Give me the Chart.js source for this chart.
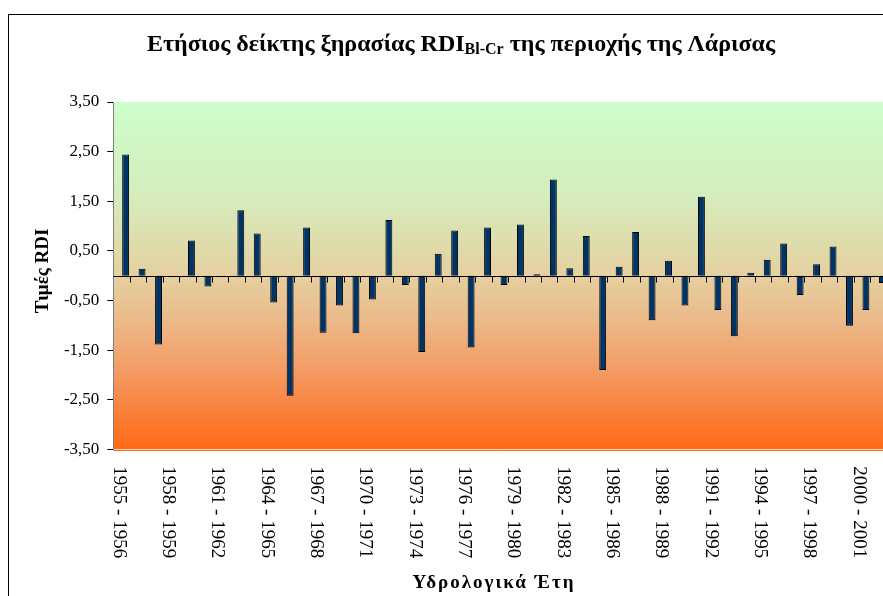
<!DOCTYPE html>
<html>
<head>
<meta charset="utf-8">
<script src="https://cdn.jsdelivr.net/npm/chart.js@4"></script>
<style>
  html, body { margin: 0; padding: 0; background: #fff; overflow: hidden; width: 883px; height: 596px; }
  canvas { position: absolute; left: 0; top: 0; }
</style>
</head>
<body>
<canvas id="rdiChart" width="900" height="596"></canvas>
<script>
// hydrological years (categories)
const years = [
  "1955 - 1956", "1956 - 1957", "1957 - 1958", "1958 - 1959", "1959 - 1960",
  "1960 - 1961", "1961 - 1962", "1962 - 1963", "1963 - 1964", "1964 - 1965",
  "1965 - 1966", "1966 - 1967", "1967 - 1968", "1968 - 1969", "1969 - 1970",
  "1970 - 1971", "1971 - 1972", "1972 - 1973", "1973 - 1974", "1974 - 1975",
  "1975 - 1976", "1976 - 1977", "1977 - 1978", "1978 - 1979", "1979 - 1980",
  "1980 - 1981", "1981 - 1982", "1982 - 1983", "1983 - 1984", "1984 - 1985",
  "1985 - 1986", "1986 - 1987", "1987 - 1988", "1988 - 1989", "1989 - 1990",
  "1990 - 1991", "1991 - 1992", "1992 - 1993", "1993 - 1994", "1994 - 1995",
  "1995 - 1996", "1996 - 1997", "1997 - 1998", "1998 - 1999", "1999 - 2000",
  "2000 - 2001", "2001 - 2002"
];

// RDI values
const rdi = [
   2.44,  0.14, -1.39,  0.00,  0.71, -0.22,  0.00,  1.32,  0.85, -0.54,
  -2.42,  0.97, -1.15, -0.60, -1.16, -0.48,  1.12, -0.19, -1.54,  0.44,
   0.91, -1.45,  0.97, -0.19,  1.03,  0.03,  1.94,  0.15,  0.80, -1.90,
   0.18,  0.88, -0.90,  0.30, -0.60,  1.59, -0.69, -1.22,  0.06,  0.32,
   0.65, -0.39,  0.23,  0.59, -1.01, -0.69, -0.15
];

const yMin = -3.5;
const yMax = 3.5;
const yStep = 1;
const labelStep = 3; // only every 3rd year gets a label

const titleMain = "Ετήσιος δείκτης ξηρασίας RDI";
const titleSub = "Bl-Cr";
const titleEnd = " της περιοχής της Λάρισας";
const yTitle = "Τιμές RDI";
const xTitle = "Υδρολογικά Έτη";

const serif = "'Liberation Serif', 'Times New Roman', serif";

const chartDecor = {
  id: 'chartDecor',
  beforeDraw(chart) {
    const { ctx, chartArea: a } = chart;
    const g = ctx.createLinearGradient(0, a.top, 0, a.bottom);
    g.addColorStop(0, '#ccffcc');
    g.addColorStop(0.28, '#d6ecbb');
    g.addColorStop(0.5, '#e5d0a0');
    g.addColorStop(0.62, '#ebbb8c');
    g.addColorStop(0.78, '#f49a62');
    g.addColorStop(0.9, '#fa7e38');
    g.addColorStop(1, '#ff6a14');
    ctx.save();
    ctx.fillStyle = g;
    ctx.fillRect(a.left, a.top, a.right - a.left, a.bottom - a.top);
    ctx.strokeStyle = '#ff6a14';
    ctx.lineWidth = 1;
    ctx.beginPath();
    ctx.moveTo(a.left, Math.round(a.bottom) + 1.5);
    ctx.lineTo(a.right, Math.round(a.bottom) + 1.5);
    ctx.stroke();
    ctx.restore();
  },
  afterDatasetsDraw(chart) {
    // category axis crossing at zero, with tick marks between categories
    const { ctx, chartArea: a, scales: { x, y } } = chart;
    const y0 = Math.round(y.getPixelForValue(0)) + 0.5;
    ctx.save();
    ctx.strokeStyle = '#000';
    ctx.lineWidth = 1;
    ctx.beginPath();
    ctx.moveTo(a.left, y0);
    ctx.lineTo(a.right, y0);
    for (let i = 1; i <= years.length; i++) {
      const xp = Math.round(x.getPixelForValue(i - 0.5)) + 0.5;
      ctx.moveTo(xp, y0);
      ctx.lineTo(xp, y0 + 6);
    }
    ctx.stroke();
    ctx.restore();
  },
  afterDraw(chart) {
    const { ctx, chartArea: a, scales: { x } } = chart;
    ctx.save();
    ctx.fillStyle = '#000';

    // rotated year labels, reading downwards
    ctx.font = `19px ${serif}`;
    ctx.textAlign = 'left';
    ctx.textBaseline = 'middle';
    years.forEach((lab, i) => {
      if (i % labelStep) return;
      ctx.save();
      ctx.translate(x.getPixelForValue(i) - 3, a.bottom + 17);
      ctx.rotate(Math.PI / 2);
      ctx.fillText(lab, 0, 0);
      ctx.restore();
    });

    // title with subscript
    ctx.textBaseline = 'alphabetic';
    const big = `bold 24px ${serif}`;
    const small = `bold 16px ${serif}`;
    ctx.font = big;
    const w1 = ctx.measureText(titleMain).width;
    const w3 = ctx.measureText(titleEnd).width;
    ctx.font = small;
    const w2 = ctx.measureText(titleSub).width;
    let tx = 461 - (w1 + w2 + w3) / 2;
    ctx.font = big;
    ctx.fillText(titleMain, tx, 51);
    tx += w1;
    ctx.font = small;
    ctx.fillText(titleSub, tx, 54);
    tx += w2;
    ctx.font = big;
    ctx.fillText(titleEnd, tx, 51);

    // axis titles
    ctx.font = `bold 19px ${serif}`;
    ctx.textAlign = 'center';
    ctx.letterSpacing = '2px';
    ctx.fillText(xTitle, 494, 588);
    ctx.letterSpacing = '0px';
    ctx.save();
    ctx.translate(48, 271);
    ctx.rotate(-Math.PI / 2);
    ctx.fillText(yTitle, 0, 0);
    ctx.restore();

    // chart frame
    ctx.strokeStyle = '#000';
    ctx.lineWidth = 1;
    ctx.strokeRect(8.5, 14.5, 2000, 2000);
    ctx.restore();
  }
};

new Chart(document.getElementById('rdiChart'), {
  type: 'bar',
  data: {
    labels: years,
    datasets: [
      { label: '', data: [] },
      {
        label: 'RDI',
        data: rdi,
        backgroundColor: '#003366',
        borderColor: '#000000',
        borderWidth: 1
      }
    ]
  },
  options: {
    responsive: false,
    animation: false,
    devicePixelRatio: 1,
    datasets: { bar: { categoryPercentage: 1, barPercentage: 0.84 } },
    layout: { padding: { top: 102, right: 13.5, left: 0, bottom: 0 } },
    plugins: {
      legend: { display: false },
      tooltip: { enabled: false },
      title: { display: false }
    },
    scales: {
      x: {
        grid: { display: false },
        border: { display: false },
        ticks: { display: false },
        afterFit(s) { s.height = 146.7; }
      },
      y: {
        min: yMin,
        max: yMax,
        ticks: {
          stepSize: yStep,
          padding: 8,
          color: '#000',
          font: { family: serif, size: 17 },
          callback: v => v.toFixed(2).replace('.', ',')
        },
        grid: { drawOnChartArea: false, tickLength: 6, color: '#000' },
        border: { color: '#808080' },
        afterFit(s) { s.width = 113.3; }
      }
    }
  },
  plugins: [chartDecor]
});
</script>
</body>
</html>
